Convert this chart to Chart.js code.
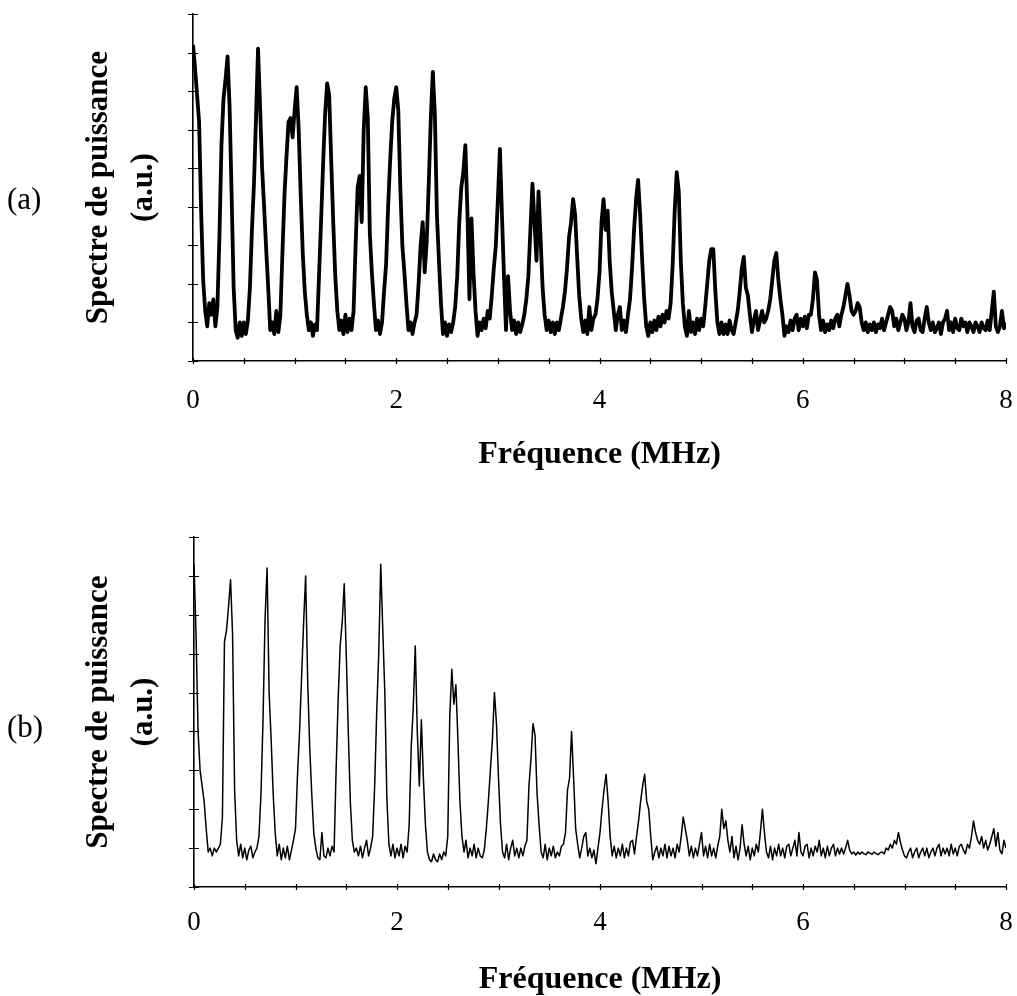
<!DOCTYPE html>
<html lang="fr">
<head>
<meta charset="utf-8">
<title>Spectre de puissance</title>
<script src="https://cdn.jsdelivr.net/npm/chart.js@4.4.1/dist/chart.umd.min.js"></script>
<style>
  html, body { margin: 0; padding: 0; background: #fff; }
  #page { position: relative; width: 1017px; height: 996px; overflow: hidden; }
  canvas { position: absolute; left: 0; }
  #specA { top: 0; }
  #specB { top: 480px; }
  .tag { position: absolute; left: 7px; font: 31px "Liberation Serif", "Times New Roman", serif; color: #000; line-height: 1; }
</style>
</head>
<body>
<div id="page">
  <canvas id="specA" width="1017" height="480"></canvas>
  <canvas id="specB" width="1017" height="516"></canvas>
  <div class="tag" style="top:183px">(a)</div>
  <div class="tag" style="top:711px">(b)</div>
</div>
<script>
// Sampling grid of the spectra (MHz)
const FREQ_STEP = 0.02;
const X_TICK_LABELS = [0, 2, 4, 6, 8];
const X_TITLE = 'Fréquence (MHz)';
const Y_TITLE = ['Spectre de puissance', '(a.u.)'];

// Spectrum (a), one value every 0.02 MHz from 0 to 8 MHz
const powerA = [
  8.2, 7.6, 6.9, 6.2, 3.9, 2.1, 1.3, 0.9, 1.5, 1.2,
  1.6, 0.9, 1.4, 3.2, 5.6, 6.8, 7.3, 7.9, 6.6, 4.3,
  1.9, 0.8, 0.6, 1.0, 0.65, 1.0, 0.7, 1.05, 1.9, 3.4,
  4.6, 6.3, 8.1, 6.6, 5.0, 4.0, 2.9, 1.9, 0.8, 1.0,
  0.7, 1.3, 0.75, 1.2, 2.8, 4.3, 5.3, 6.2, 6.3, 5.8,
  6.5, 7.1, 6.0, 4.3, 2.8, 1.8, 1.2, 0.8, 1.0, 0.65,
  0.95, 0.8, 2.2, 3.6, 5.1, 6.4, 7.2, 6.9, 5.2, 3.6,
  2.2, 1.3, 0.8, 1.05, 0.7, 1.2, 0.75, 1.1, 0.8, 1.3,
  3.0, 4.5, 4.8, 3.6, 6.0, 7.1, 6.3, 3.3, 2.3, 1.5,
  0.8, 1.05, 0.7, 1.0, 1.8, 2.5, 4.0, 5.2, 6.2, 6.8,
  7.1, 6.5, 4.5, 3.0, 2.3, 1.5, 0.8, 1.0, 0.7, 1.0,
  1.2, 2.0, 3.0, 3.6, 2.3, 3.1, 4.6, 6.3, 7.5, 6.4,
  3.8, 2.6, 1.5, 0.7, 1.0, 0.65, 0.95, 0.75, 1.0, 1.4,
  2.2, 3.6, 4.5, 4.9, 5.6, 3.9, 1.6, 3.7, 2.3, 1.3,
  0.65, 1.0, 0.8, 1.1, 0.85, 1.3, 1.1, 1.7, 2.4, 3.0,
  4.2, 5.5, 3.8, 2.2, 0.8, 2.2, 1.3, 0.8, 1.05, 0.7,
  1.0, 0.75, 0.95, 1.2, 1.6, 2.2, 3.4, 4.6, 3.6, 2.6,
  4.4, 3.2, 1.9, 1.2, 0.8, 1.05, 0.75, 1.0, 0.7, 1.0,
  0.8, 1.1, 1.4, 1.8, 2.4, 3.2, 3.6, 4.2, 3.8, 2.7,
  1.7, 1.1, 0.75, 1.05, 0.7, 1.4, 0.8, 1.1, 1.2, 1.6,
  2.3, 3.6, 4.2, 3.4, 3.9, 2.6, 1.8, 1.3, 0.8, 1.2,
  1.4, 0.8, 1.05, 0.75, 1.2, 1.6, 2.4, 3.4, 4.2, 4.7,
  3.8, 2.6, 1.6, 0.9, 0.65, 1.0, 0.75, 1.05, 0.8, 1.15,
  0.9, 1.2, 1.0, 1.3, 1.1, 1.5, 2.5, 3.9, 4.9, 4.4,
  2.6, 1.5, 0.9, 0.65, 1.3, 0.75, 1.0, 0.7, 1.1, 0.8,
  1.1, 0.9, 1.4, 2.0, 2.6, 2.9, 2.9, 1.8, 1.0, 0.7,
  1.0, 0.7, 0.95, 0.7, 1.05, 0.8, 0.7, 1.0, 1.3, 1.8,
  2.4, 2.7, 1.9, 1.7, 1.2, 0.75, 1.05, 1.3, 0.8, 1.05,
  1.3, 1.0, 1.1, 1.3, 1.6, 2.1, 2.6, 2.8, 2.1, 1.6,
  1.2, 0.65, 0.9, 0.75, 1.05, 0.8, 1.1, 1.2, 0.8, 1.1,
  0.9, 1.15, 0.85, 1.2, 1.2, 1.6, 2.3, 2.1, 1.2, 0.8,
  1.05, 0.75, 0.95, 0.8, 1.05, 0.85, 1.1, 1.2, 0.9, 1.2,
  1.4, 1.7, 2.0, 1.7, 1.3, 1.2, 1.3, 1.5, 1.4, 1.0,
  0.8, 1.0, 0.75, 0.95, 0.8, 1.0, 0.75, 0.95, 0.85, 1.1,
  0.8, 1.0, 1.2, 1.4, 1.3, 0.9, 1.1, 0.8, 1.0, 1.2,
  1.1, 0.8, 1.0, 1.5, 0.9, 0.75, 1.05, 1.1, 0.8, 0.75,
  1.1, 1.4, 1.0, 0.8, 1.0, 0.75, 0.85, 1.0, 0.7, 1.0,
  1.1, 1.3, 0.8, 1.0, 0.75, 1.1, 0.85, 0.8, 1.1, 0.9,
  1.0, 0.75, 1.0, 0.9, 0.75, 1.0, 0.9, 0.75, 1.0, 0.85,
  0.8, 1.05, 0.8, 1.3, 1.8, 0.9, 0.75, 0.9, 1.3, 0.85,
  1.0
];

// Spectrum (b), one value every 0.02 MHz from 0 to 8 MHz
const powerB = [
  8.3, 6.5, 4.0, 3.0, 2.6, 2.2, 1.5, 0.9, 1.0, 0.8,
  1.0, 0.9, 1.0, 1.1, 1.8, 6.3, 6.6, 7.2, 7.9, 6.5,
  2.5, 1.2, 0.8, 1.1, 0.75, 1.0, 0.7, 0.95, 1.05, 0.75,
  0.9, 1.0, 1.3, 2.4, 4.3, 6.9, 8.2, 5.0, 3.8, 2.4,
  1.4, 0.8, 1.1, 0.7, 1.0, 0.75, 1.05, 0.7, 0.95, 1.2,
  1.5, 2.9, 4.0, 5.4, 6.8, 8.0, 5.3, 3.6, 2.4, 1.4,
  1.0, 0.75, 0.7, 1.4, 0.8, 0.75, 1.0, 0.8, 1.05, 0.9,
  3.0, 4.8, 6.2, 6.8, 7.8, 6.0, 4.0, 2.2, 1.2, 0.9,
  1.0, 0.8, 1.05, 0.75, 1.0, 1.2, 0.8, 1.0, 1.3, 2.6,
  4.5, 6.0, 8.3, 6.6, 5.0, 2.3, 1.1, 0.8, 1.1, 0.75,
  1.0, 0.8, 1.1, 0.75, 1.05, 0.9, 1.6, 3.6, 4.6, 6.2,
  4.0, 2.6, 4.3, 2.8, 1.6, 0.9, 0.7, 0.65, 0.85, 0.7,
  0.65, 0.85, 0.7, 0.9, 0.8, 1.3, 4.4, 5.6, 4.7, 5.2,
  3.8, 2.2, 1.3, 0.9, 1.2, 0.75, 1.0, 0.8, 1.1, 0.75,
  1.0, 0.8, 0.75, 0.95, 1.5, 2.2, 3.0, 3.8, 5.0, 4.2,
  2.8, 1.6, 0.9, 0.75, 1.1, 0.7, 1.0, 1.2, 0.8, 1.0,
  0.75, 1.0, 0.8, 1.05, 1.2, 2.6, 3.3, 4.2, 3.9, 2.4,
  1.6, 0.9, 0.75, 1.1, 0.7, 1.0, 0.8, 1.05, 0.75, 0.9,
  0.8, 1.05, 1.1, 1.4, 2.5, 2.8, 4.0, 2.8, 1.5, 1.1,
  0.75, 1.0, 1.3, 1.4, 0.8, 1.0, 0.75, 0.95, 0.6, 1.0,
  1.4, 2.0, 2.5, 2.9, 2.2, 1.3, 0.8, 1.05, 0.75, 1.0,
  0.8, 1.1, 0.75, 1.0, 0.8, 1.15, 1.2, 0.85, 1.3, 1.7,
  2.2, 2.6, 2.9, 2.2, 2.0, 1.3, 0.7, 0.9, 1.05, 0.75,
  1.0, 0.8, 1.1, 0.75, 1.05, 0.8, 1.0, 0.75, 1.1, 0.9,
  1.3, 1.8, 1.5, 1.2, 0.8, 1.05, 0.75, 1.0, 0.8, 1.1,
  1.4, 0.8, 1.05, 0.75, 1.1, 0.8, 1.0, 0.75, 1.05, 1.3,
  2.0, 1.5, 1.7, 1.2, 0.9, 1.3, 0.75, 1.05, 0.7, 1.0,
  1.6, 1.1, 0.8, 1.05, 0.7, 1.0, 0.8, 1.1, 0.9, 1.4,
  2.0, 1.4, 0.9, 0.75, 1.05, 0.7, 1.0, 0.8, 1.1, 0.8,
  1.0, 0.75, 1.05, 1.1, 0.8, 1.0, 1.2, 0.8, 1.4, 0.9,
  0.8, 1.05, 1.1, 0.75, 1.0, 0.8, 1.05, 0.9, 1.2, 0.8,
  1.0, 0.75, 1.05, 0.8, 1.0, 1.1, 0.8, 1.0, 0.85, 1.0,
  0.85, 1.0, 1.2, 0.95, 0.85, 0.9, 0.82, 0.9, 0.84, 0.9,
  0.86, 0.83, 0.9, 0.87, 0.84, 0.9, 0.86, 0.83, 0.88, 0.9,
  0.85, 1.0, 0.95, 1.1, 1.0, 1.2, 1.1, 1.4, 1.15, 0.95,
  0.8, 0.75, 0.9, 1.0, 0.75, 0.9, 1.0, 0.75, 0.9, 1.0,
  0.8, 1.0, 0.75, 0.9, 1.0, 0.8, 1.0, 1.1, 0.8, 1.0,
  0.85, 1.0, 0.8, 1.1, 0.85, 1.0, 0.8, 1.05, 1.1, 0.95,
  0.85, 1.1, 1.0, 1.3, 1.7, 1.4, 1.2, 1.1, 1.3, 1.0,
  1.2, 0.95, 1.1, 1.3, 1.5, 1.05, 1.4, 0.95, 0.85, 1.2,
  1.0
];

const INK = '#000';
const SERIF = '"Liberation Serif", "Times New Roman", serif';

// Tick marks that cross the axis lines, drawn at the scales' own tick positions
const crossTicks = {
  id: 'crossTicks',
  afterDraw(chart) {
    const { ctx, chartArea, scales } = chart;
    ctx.save();
    ctx.strokeStyle = INK;
    ctx.lineWidth = 1.2;
    ctx.beginPath();
    scales.x.ticks.forEach((t, i) => {
      const px = Math.round(scales.x.getPixelForTick(i)) + 0.5;
      ctx.moveTo(px, chartArea.bottom - 3);
      ctx.lineTo(px, chartArea.bottom + 3);
    });
    scales.y.ticks.forEach((t, i) => {
      const py = Math.round(scales.y.getPixelForTick(i)) + 0.5;
      ctx.moveTo(chartArea.left - 5, py);
      ctx.lineTo(chartArea.left + 5, py);
    });
    ctx.stroke();
    ctx.restore();
  }
};

function makePanel(canvasId, values, cfg) {
  const points = values.map((v, i) => ({ x: +(i * FREQ_STEP).toFixed(2), y: v }));
  return new Chart(document.getElementById(canvasId), {
    type: 'line',
    data: {
      datasets: [{
        data: points,
        borderColor: INK,
        borderWidth: cfg.lineWidth,
        borderJoinStyle: 'round',
        pointRadius: 0,
        tension: 0,
        fill: false
      }]
    },
    options: {
      responsive: false,
      animation: false,
      devicePixelRatio: 1,
      layout: { padding: { left: 0, right: cfg.right, top: cfg.top, bottom: 0 } },
      plugins: { legend: { display: false }, tooltip: { enabled: false } },
      scales: {
        x: {
          type: 'linear',
          min: 0,
          max: 8,
          afterFit: s => { s.height = cfg.xHeight; },
          ticks: {
            stepSize: 0.5,
            autoSkip: false,
            maxRotation: 0,
            padding: 0,
            color: INK,
            font: { family: SERIF, size: 27 },
            callback: v => (X_TICK_LABELS.includes(v) ? String(v) : '')
          },
          // invisible tick marks: their length sets the gap to the labels
          grid: { drawOnChartArea: false, drawTicks: true, tickLength: cfg.labelGap, color: 'rgba(0,0,0,0)' },
          border: { display: true, color: INK, width: 1.6 },
          title: {
            display: true,
            text: X_TITLE,
            color: INK,
            font: { family: SERIF, size: 32, weight: 'bold' },
            padding: { top: 0, bottom: cfg.titlePad }
          }
        },
        y: {
          min: 0,
          max: 9,
          afterFit: s => { s.width = cfg.yWidth; },
          ticks: { stepSize: 1, display: false },
          grid: { drawOnChartArea: false, drawTicks: false, color: 'rgba(0,0,0,0)' },
          border: { display: true, color: INK, width: 1.6 },
          title: {
            display: true,
            text: Y_TITLE,
            color: INK,
            font: { family: SERIF, size: 31, weight: 'bold', lineHeight: 45 / 31 },
            padding: { top: 76, bottom: 0 }
          }
        }
      }
    },
    plugins: [crossTicks]
  });
}

makePanel('specA', powerA, { lineWidth: 3.8, right: 11, top: 14, xHeight: 119, yWidth: 193, labelGap: 24, titlePad: 6 });
makePanel('specB', powerB, { lineWidth: 1.5, right: 11, top: 57, xHeight: 109, yWidth: 194, labelGap: 20, titlePad: -3 });
</script>
</body>
</html>
